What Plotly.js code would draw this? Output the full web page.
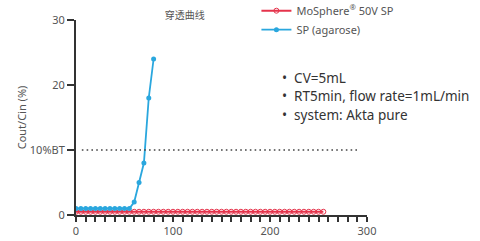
<!DOCTYPE html>
<html>
<head>
<meta charset="utf-8">
<script src="https://cdn.plot.ly/plotly-3.0.1.min.js"></script>
<style>html,body{margin:0;padding:0;background:#fff;}#chart{width:480px;height:241px;}</style>
</head>
<body>
<div id="chart"></div>
<script>
// Series data
const redX = [0,5,10,15,20,25,30,35,40,45,50,55,60,65,70,75,80,85,90,95,100,105,110,115,120,125,130,135,140,145,150,155,160,165,170,175,180,185,190,195,200,205,210,215,220,225,230,235,240,245,250,255];
const redY = [0.5,0.5,0.5,0.5,0.5,0.5,0.5,0.5,0.5,0.5,0.5,0.5,0.5,0.5,0.5,0.5,0.5,0.5,0.5,0.5,0.5,0.5,0.5,0.5,0.5,0.5,0.5,0.5,0.5,0.5,0.5,0.5,0.5,0.5,0.5,0.5,0.5,0.5,0.5,0.5,0.5,0.5,0.5,0.5,0.5,0.5,0.5,0.5,0.5,0.5,0.5,0.5];
const blueX = [0,5,10,15,20,25,30,35,40,45,50,55,60,65,70,75,80];
const blueY = [1,1,1,1,1,1,1,1,1,1,1,1,2,5,8,18,24];
const seriesNames = ['MoSphere<sup>®</sup> 50V SP', 'SP (agarose)'];
const yTickVals = [0,10,20,30];
const yTickText = ['0','10%BT','20','30'];
const xMajorVals = [0,100,200,300];
const xMajorText = ['0','100','200','300'];
const btLevel = 10;
const btRange = [6,292];
const notes = ['CV=5mL','RT5min, flow rate=1mL/min','system: Akta pure'];

const xTickVals = [], xTickText = [];
for (let v = 0; v <= 300; v += 10) {
  xTickVals.push(v);
  const i = xMajorVals.indexOf(v);
  xTickText.push(i >= 0 ? xMajorText[i] : '');
}

const traces = [
  {x: redX, y: redY, name: seriesNames[0], type: 'scatter', mode: 'lines+markers',
   line: {color: '#e5334b', width: 2},
   marker: {symbol: 'circle-open', size: 5, color: '#e5334b', line: {width: 1}}},
  {x: blueX, y: blueY, name: seriesNames[1], type: 'scatter', mode: 'lines+markers',
   line: {color: '#2aa7de', width: 1.8},
   marker: {symbol: 'circle', size: 5, color: '#2aa7de'}}
];

const annotations = notes.map((t, i) => ({
  xref: 'paper', yref: 'paper', x: 0.70, y: 0.705 - i * 0.095, xanchor: 'left', yanchor: 'middle',
  text: '•  ' + t, showarrow: false, font: {size: 13.5, color: '#333', family: 'Noto Sans, sans-serif'}
}));

const layout = {
  width: 480, height: 241,
  margin: {l: 76, r: 113, t: 20, b: 26, autoexpand: false},
  paper_bgcolor: '#fff', plot_bgcolor: '#fff',
  font: {family: 'Noto Sans, sans-serif', color: '#555'},
  title: {text: '穿透曲线', font: {size: 10, color: '#555', family: 'Noto Sans CJK SC, sans-serif'},
          x: 0.385, xanchor: 'center', y: 0.935, yanchor: 'middle'},
  showlegend: true,
  legend: {x: 0.62, y: 1.122, xanchor: 'left', yanchor: 'top', bgcolor: 'rgba(0,0,0,0)',
           font: {size: 11, color: '#555'}, itemwidth: 30, tracegroupgap: 5},
  xaxis: {range: [0, 300], tickmode: 'array', tickvals: xTickVals, ticktext: xTickText, tickangle: 0,
          ticks: 'outside', ticklen: 5, tickwidth: 2, tickcolor: '#333',
          showline: true, linecolor: '#333', linewidth: 2, showgrid: false, zeroline: false,
          tickfont: {size: 11, color: '#555'}},
  yaxis: {range: [0, 30], tickmode: 'array', tickvals: yTickVals, ticktext: yTickText,
          ticks: 'outside', ticklen: 7, tickwidth: 2, tickcolor: '#333',
          showline: true, linecolor: '#333', linewidth: 2, showgrid: false, zeroline: false,
          tickfont: {size: 11, color: '#555'},
          title: {text: 'Cout/Cin (%)', font: {size: 11, color: '#555'}, standoff: 1}},
  shapes: [{type: 'line', xref: 'x', yref: 'y', x0: btRange[0], x1: btRange[1], y0: btLevel, y1: btLevel,
            line: {color: '#444', width: 1.6, dash: '1.6px,3.2px'}}],
  annotations: annotations
};

Plotly.newPlot('chart', traces, layout, {displayModeBar: false, staticPlot: true});
</script>
</body>
</html>
